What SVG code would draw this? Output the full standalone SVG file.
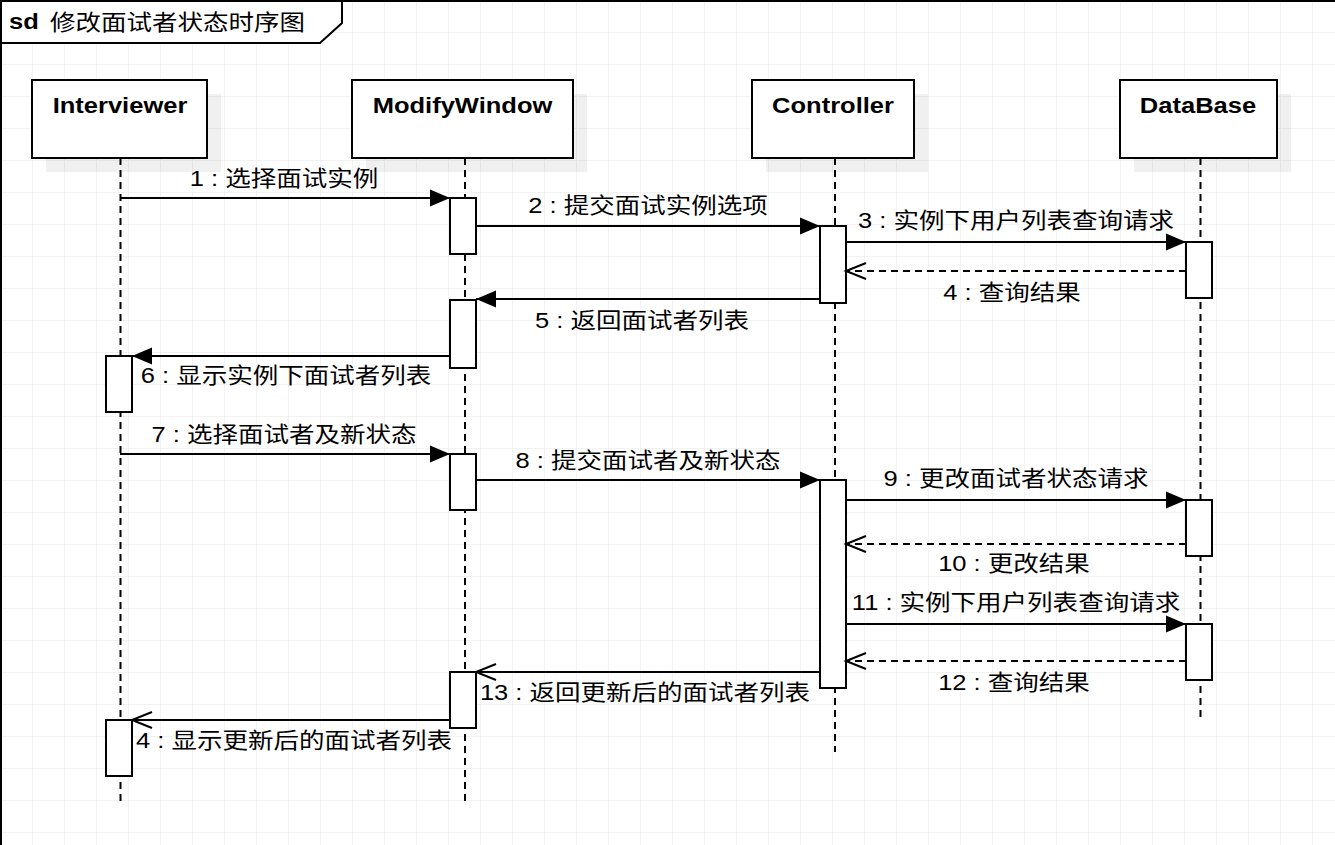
<svg xmlns="http://www.w3.org/2000/svg" width="1335" height="845" viewBox="0 0 1335 845">
<defs>
<pattern id="grid" width="32" height="32" patternUnits="userSpaceOnUse">
<path d="M32,0 L0,0 L0,32" fill="none" stroke="#e6e6e6" stroke-width="1"/>
</pattern>
<marker id="filled" markerUnits="userSpaceOnUse" markerWidth="22" markerHeight="19" refX="20" refY="8.5" orient="auto" overflow="visible">
<path d="M0,0 L20,8.5 L0,17 Z" fill="#000"/>
</marker>
<marker id="open" markerUnits="userSpaceOnUse" markerWidth="22" markerHeight="18" refX="20" refY="8" orient="auto" overflow="visible">
<path d="M0,0 L20,8 L0,16" fill="none" stroke="#000" stroke-width="2"/>
</marker>
</defs>
<style>
.hdr{fill:#fff;stroke:#000;stroke-width:2}
.shadow{fill:#000;fill-opacity:0.06;stroke:none}
.act{fill:#fff;stroke:#000;stroke-width:2}
.life{stroke:#000;stroke-width:2;stroke-dasharray:7 5;fill:none}
.msg{stroke:#000;stroke-width:2;fill:none;marker-end:url(#filled)}
.ret{stroke:#000;stroke-width:2;fill:none;stroke-dasharray:7 5;marker-end:url(#open)}
.rets{stroke:#000;stroke-width:2;fill:none;marker-end:url(#open)}
text{font-family:"Liberation Sans","Noto Sans CJK SC",sans-serif;font-size:22px;fill:#000}
.hname{font-weight:bold;text-anchor:middle}
.lbl{text-anchor:middle}
</style>
<rect x="0" y="0" width="1335" height="845" fill="#fff"/>
<rect x="0" y="0" width="1335" height="845" fill="url(#grid)"/>

<g id="frame">
<rect x="1" y="1" width="1400" height="1000" fill="none" stroke="#000" stroke-width="2"/>
<path d="M1,1 L342,1 L342,23 L320,43 L1,43 Z" fill="#fff" stroke="#000" stroke-width="2"/>
<text transform="translate(9,29) scale(1.16,1)" font-weight="bold">sd</text>
<text transform="translate(50,30) scale(1.16,1)">修改面试者状态时序图</text>
</g>

<g id="interviewer">
<rect class="shadow" x="46" y="94" width="175" height="78"/>
<line class="life" x1="120.5" y1="158" x2="120.5" y2="802"/>
<rect class="hdr" x="32" y="80" width="175" height="78"/>
<text class="hname" transform="translate(120,113) scale(1.16,1)">Interviewer</text>
<rect class="act" x="106" y="356" width="26" height="56"/>
<rect class="act" x="106" y="720" width="26" height="56"/>
</g>

<g id="modifywindow">
<rect class="shadow" x="366" y="94" width="221" height="78"/>
<line class="life" x1="465" y1="158" x2="465" y2="802"/>
<rect class="hdr" x="352" y="80" width="221" height="78"/>
<text class="hname" transform="translate(462.5,113) scale(1.16,1)">ModifyWindow</text>
<rect class="act" x="450" y="198" width="26" height="56"/>
<rect class="act" x="450" y="300" width="26" height="68"/>
<rect class="act" x="450" y="454" width="26" height="56"/>
<rect class="act" x="450" y="672" width="26" height="56"/>
</g>

<g id="controller">
<rect class="shadow" x="766" y="94" width="162" height="78"/>
<line class="life" x1="835" y1="158" x2="835" y2="752"/>
<rect class="hdr" x="752" y="80" width="162" height="78"/>
<text class="hname" transform="translate(833,113) scale(1.16,1)">Controller</text>
<rect class="act" x="820" y="226" width="26" height="77"/>
<rect class="act" x="820" y="480" width="26" height="208"/>
</g>

<g id="database">
<rect class="shadow" x="1134" y="94" width="157" height="78"/>
<line class="life" x1="1200.5" y1="158" x2="1200.5" y2="718"/>
<rect class="hdr" x="1120" y="80" width="157" height="78"/>
<text class="hname" transform="translate(1198,113) scale(1.16,1)">DataBase</text>
<rect class="act" x="1186" y="242" width="26" height="56"/>
<rect class="act" x="1186" y="500" width="26" height="56"/>
<rect class="act" x="1186" y="624" width="26" height="56"/>
</g>

<g id="connectors">
<line class="msg" x1="120" y1="198" x2="450" y2="198"/>
<line class="msg" x1="476" y1="226" x2="820" y2="226"/>
<line class="msg" x1="846" y1="242" x2="1186" y2="242"/>
<line class="ret" x1="1186" y1="271" x2="846" y2="271"/>
<line class="msg" x1="820" y1="299" x2="476" y2="299"/>
<line class="msg" x1="450" y1="356" x2="132" y2="356"/>
<line class="msg" x1="120" y1="454" x2="450" y2="454"/>
<line class="msg" x1="476" y1="480" x2="820" y2="480"/>
<line class="msg" x1="846" y1="500" x2="1186" y2="500"/>
<line class="ret" x1="1186" y1="544" x2="846" y2="544"/>
<line class="msg" x1="846" y1="624" x2="1186" y2="624"/>
<line class="ret" x1="1186" y1="661" x2="846" y2="661"/>
<line class="rets" x1="820" y1="672" x2="476" y2="672"/>
<line class="rets" x1="450" y1="720" x2="132" y2="720"/>

<text class="lbl" transform="translate(284,186) scale(1.16,1)">1 : 选择面试实例</text>
<text class="lbl" transform="translate(648,213) scale(1.16,1)">2 : 提交面试实例选项</text>
<text class="lbl" transform="translate(1016,228) scale(1.16,1)">3 : 实例下用户列表查询请求</text>
<text class="lbl" transform="translate(1012,300) scale(1.16,1)">4 : 查询结果</text>
<text class="lbl" transform="translate(642,328) scale(1.16,1)">5 : 返回面试者列表</text>
<text class="lbl" transform="translate(286,383) scale(1.16,1)">6 : 显示实例下面试者列表</text>
<text class="lbl" transform="translate(284,442) scale(1.16,1)">7 : 选择面试者及新状态</text>
<text class="lbl" transform="translate(648,468) scale(1.16,1)">8 : 提交面试者及新状态</text>
<text class="lbl" transform="translate(1016,486) scale(1.16,1)">9 : 更改面试者状态请求</text>
<text class="lbl" transform="translate(1014,571) scale(1.16,1)">10 : 更改结果</text>
<text class="lbl" transform="translate(1016,610) scale(1.16,1)">11 : 实例下用户列表查询请求</text>
<text class="lbl" transform="translate(1014,690) scale(1.16,1)">12 : 查询结果</text>
<text class="lbl" transform="translate(645,700) scale(1.16,1)">13 : 返回更新后的面试者列表</text>
<text class="lbl" transform="translate(294,748) scale(1.16,1)">4 : 显示更新后的面试者列表</text>
</g>
</svg>
